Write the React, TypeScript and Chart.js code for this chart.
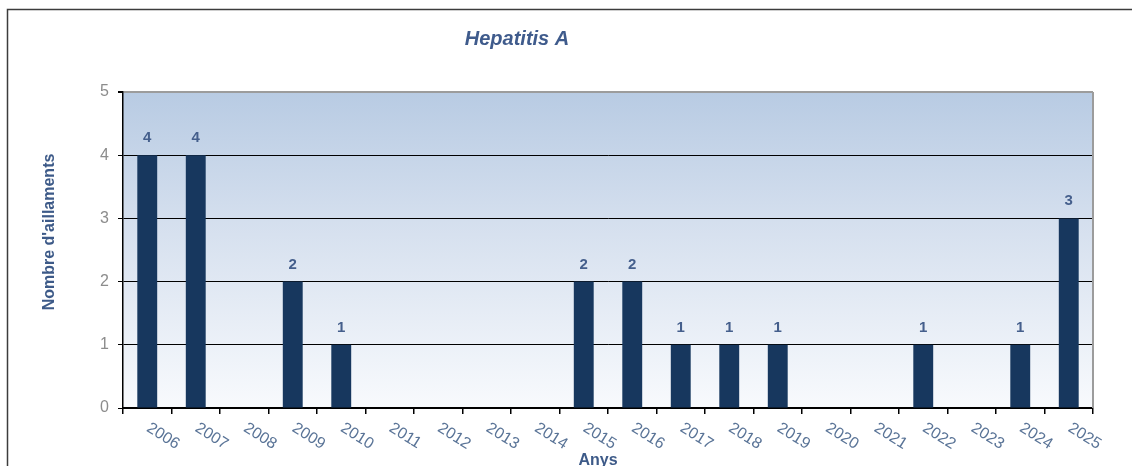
import React, { useEffect, useRef } from "react";
import { Chart, registerables } from "chart.js";

Chart.register(...registerables);

const chartTitle = "Hepatitis A";
const yAxisTitle = "Nombre d'aillaments";
const xAxisTitle = "Anys";
const years = [
  "2006", "2007", "2008", "2009", "2010", "2011", "2012", "2013", "2014", "2015",
  "2016", "2017", "2018", "2019", "2020", "2021", "2022", "2023", "2024", "2025",
];
const cases = [4, 4, 0, 2, 1, 0, 0, 0, 0, 2, 2, 1, 1, 1, 0, 0, 1, 0, 1, 3];
const yMin = 0;
const yMax = 5;
const yStep = 1;

const W = 1132;
const H = 466;
const FONT = "'Liberation Sans', Arial, sans-serif";

const decor = {
  id: "decor",
  beforeDraw(chart: any) {
    const { ctx, chartArea: a } = chart;
    ctx.save();
    // outer frame
    ctx.strokeStyle = "#3c3c3c";
    ctx.lineWidth = 1.5;
    ctx.beginPath();
    ctx.moveTo(7.5, H + 5);
    ctx.lineTo(7.5, 9.5);
    ctx.lineTo(W + 5, 9.5);
    ctx.stroke();
    // plot background gradient
    const g = ctx.createLinearGradient(0, a.top, 0, a.bottom);
    g.addColorStop(0, "#b8cbe3");
    g.addColorStop(0.45, "#d7e1ef");
    g.addColorStop(1, "#f8fafd");
    ctx.fillStyle = g;
    ctx.fillRect(a.left, a.top, a.right - a.left, a.bottom - a.top);
    ctx.restore();
  },
  afterDatasetsDraw(chart: any) {
    const { ctx } = chart;
    const meta = chart.getDatasetMeta(0);
    ctx.save();
    ctx.font = `bold 15px ${FONT}`;
    ctx.fillStyle = "#455f8c";
    ctx.textAlign = "center";
    ctx.textBaseline = "alphabetic";
    meta.data.forEach((bar: any, i: number) => {
      const v = cases[i];
      if (!v) return;
      ctx.fillText(String(v), bar.x, bar.y - 13);
    });
    ctx.restore();
  },
  afterDraw(chart: any) {
    const { ctx, chartArea: a } = chart;
    const xs = chart.scales.x;
    ctx.save();
    // right border of the plot
    ctx.strokeStyle = "#9c9c9c";
    ctx.lineWidth = 2;
    ctx.beginPath();
    ctx.moveTo(a.right, a.top);
    ctx.lineTo(a.right, a.bottom);
    ctx.stroke();

    // chart title
    ctx.font = `italic bold 20px ${FONT}`;
    ctx.fillStyle = "#3f5b8c";
    ctx.textAlign = "center";
    ctx.textBaseline = "middle";
    ctx.fillText(chartTitle, 517, 39);

    // y axis title
    ctx.save();
    ctx.translate(50, 232);
    ctx.rotate(-Math.PI / 2);
    ctx.font = `bold 16px ${FONT}`;
    ctx.fillStyle = "#3d5a88";
    ctx.fillText(yAxisTitle, 0, 0);
    ctx.restore();

    // x tick labels (rotated clockwise)
    ctx.font = `16px ${FONT}`;
    ctx.fillStyle = "#5a7497";
    ctx.textAlign = "left";
    ctx.textBaseline = "top";
    years.forEach((lab, i) => {
      const x = xs.getPixelForTick(i);
      ctx.save();
      ctx.translate(x + 5, a.bottom + 12);
      ctx.rotate((32 * Math.PI) / 180);
      ctx.fillText(lab, 0, 0);
      ctx.restore();
    });

    // x axis title
    ctx.font = `bold 16px ${FONT}`;
    ctx.fillStyle = "#3d5a88";
    ctx.textAlign = "center";
    ctx.textBaseline = "middle";
    ctx.fillText(xAxisTitle, 598, 461);
    ctx.restore();
  },
};

export default function App() {
  const ref = useRef<HTMLCanvasElement | null>(null);

  useEffect(() => {
    if (!ref.current) return;
    const chart = new Chart(ref.current, {
      type: "bar",
      data: {
        labels: years,
        datasets: [
          {
            data: cases,
            backgroundColor: "#17375e",
            borderWidth: 0,
            barPercentage: 0.41,
            categoryPercentage: 1,
          },
        ],
      },
      options: {
        responsive: false,
        animation: false,
        devicePixelRatio: 1,
        layout: { padding: { top: 92, right: 39, bottom: 0, left: 0 } },
        plugins: {
          legend: { display: false },
          title: { display: false },
          tooltip: { enabled: false },
        },
        scales: {
          x: {
            offset: true,
            afterFit(scale: any) {
              scale.height = H - 408;
            },
            grid: {
              offset: true,
              drawOnChartArea: false,
              drawTicks: true,
              tickLength: 6,
              color: "#000000",
              lineWidth: 1.5,
            },
            border: { display: true, color: "#000000", width: 2 },
            ticks: { display: false, autoSkip: false },
          },
          y: {
            min: yMin,
            max: yMax,
            afterFit(scale: any) {
              scale.width = 123;
            },
            ticks: {
              stepSize: yStep,
              color: "#8c8c8c",
              font: { family: FONT, size: 16 },
              padding: 9,
            },
            grid: {
              color: (c: any) => (c.tick && c.tick.value === yMax ? "#9c9c9c" : "#000000"),
              lineWidth: (c: any) => (c.tick && c.tick.value === yMax ? 2 : 1),
              tickColor: "#000000",
              tickLength: 5,
              drawTicks: true,
            },
            border: { display: true, color: "#000000", width: 1.5 },
          },
        },
      },
      plugins: [decor],
    });
    return () => chart.destroy();
  }, []);

  return (
    <div style={{ position: "fixed", left: 0, top: 0, width: W, height: H, background: "#ffffff" }}>
      <canvas ref={ref} width={W} height={H} style={{ display: "block", width: W, height: H }} />
    </div>
  );
}
